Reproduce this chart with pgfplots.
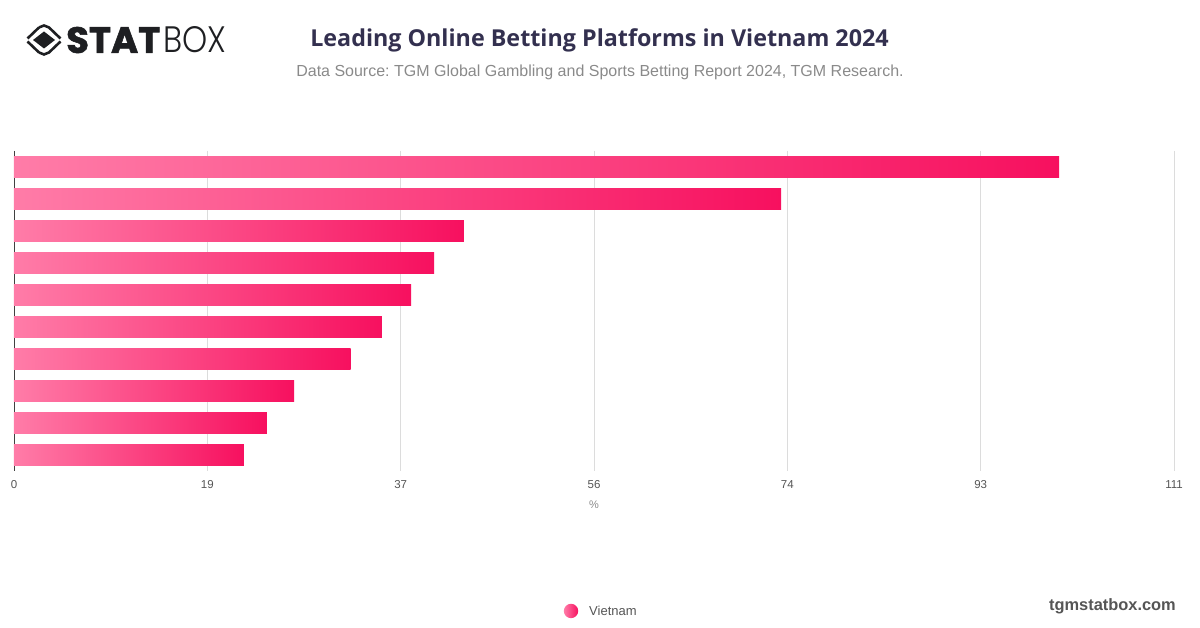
\documentclass[border=0pt]{standalone}
\usepackage{fontspec}
\setmainfont{Liberation Sans}
\newfontfamily\titlefont{Open Sans}
\newfontfamily\logofont{Poppins}[BoldFeatures={FakeBold=1.5}]
\newfontfamily\logolight{Poppins Light}
\usepackage{pgfplots}
\pgfplotsset{compat=1.18}
\definecolor{barL}{HTML}{FF7CA8}
\definecolor{barR}{HTML}{F7105F}
\definecolor{titlec}{HTML}{33304F}
\definecolor{subc}{HTML}{8A8A8A}
\definecolor{gridc}{HTML}{DCDCDC}
\definecolor{tickc}{HTML}{555555}
\definecolor{logoc}{HTML}{1E1F22}
\pgfplotsset{pinkbar/.style={xbar, bar width=21.5pt, bar shift=0pt, draw=none, left color=barL, right color=barR}}
\frenchspacing
\begin{document}
\begin{tikzpicture}[x=1pt,y=1pt]
\useasboundingbox (0,0) rectangle (1200,628);
% logo
\begin{scope}[shift={(44,588)}]
\fill[logoc] (0,-8.5) -- (11,0) -- (0,8.5) -- (-11,0) -- cycle;
\draw[logoc,line width=2.6pt] (-5,12.5) -- (0,14.5) -- (5,12.5) -- (16.5,1.5);
\draw[logoc,line width=2.6pt] (-5,-12.5) -- (0,-14.5) -- (5,-12.5) -- (16.5,-1.5);
\draw[logoc,line width=2.6pt] (-5,12.5) -- (-16.5,1.5);
\draw[logoc,line width=2.6pt] (-5,-12.5) -- (-16.5,-1.5);
\end{scope}
\node[anchor=west,inner sep=0pt,text=logoc] at (66,588) {\resizebox{94pt}{26pt}{\logofont\bfseries STAT}};
\node[anchor=west,inner sep=0pt,text=logoc] at (163,588) {\resizebox{63pt}{26pt}{\logolight BOX}};
% titles
\node[anchor=center,inner sep=0pt,text=titlec] at (599.5,587.5) {\fontsize{23.3}{28}\selectfont\titlefont\bfseries Leading Online Betting Platforms in Vietnam 2024};
\node[anchor=center,inner sep=0pt,text=subc] at (600,555.5) {\fontsize{16}{19}\selectfont Data Source: TGM Global Gambling and Sports Betting Report 2024, TGM Research.};
\node[anchor=east,inner sep=0pt,text=tickc] at (1176,21.5) {\fontsize{16.4}{19}\selectfont\bfseries tgmstatbox.com};
% legend
\shade[left color=barL,right color=barR] (571,17) circle (7.2);
\node[anchor=west,inner sep=0pt,text=tickc] at (589,17) {\fontsize{13}{15}\selectfont Vietnam};
\begin{axis}[
  at={(14pt,157pt)}, anchor=south west,
  scale only axis, width=1160pt, height=320pt,
  xmin=0, xmax=111, ymin=-0.5, ymax=9.5, y dir=reverse,
  xtick={0,18.5,37,55.5,74,92.5,111},
  xticklabels={0,19,37,56,74,93,111},
  ytick=\empty,
  axis lines*=left,
  x axis line style={draw=none,-},
  y axis line style={draw=black!75,line width=0.8pt,-},
  xmajorgrids,
  grid style={gridc,line width=0.8pt},
  major tick length=0pt,
  tick label style={font=\fontsize{11.5}{13}\selectfont,text=tickc},
  xticklabel style={yshift=-6pt},
  xlabel={\%},
  xlabel style={font=\fontsize{11}{13}\selectfont,text=subc,at={(axis description cs:0.5,0)},anchor=center,yshift=-34pt},
]
\addplot[pinkbar] coordinates {(100.0,0)};
\addplot[pinkbar] coordinates {(73.4,1)};
\addplot[pinkbar] coordinates {(43.05,2)};
\addplot[pinkbar] coordinates {(40.2,3)};
\addplot[pinkbar] coordinates {(38.0,4)};
\addplot[pinkbar] coordinates {(35.2,5)};
\addplot[pinkbar] coordinates {(32.2,6)};
\addplot[pinkbar] coordinates {(26.8,7)};
\addplot[pinkbar] coordinates {(24.2,8)};
\addplot[pinkbar] coordinates {(22.0,9)};
\end{axis}
\end{tikzpicture}
\end{document}
